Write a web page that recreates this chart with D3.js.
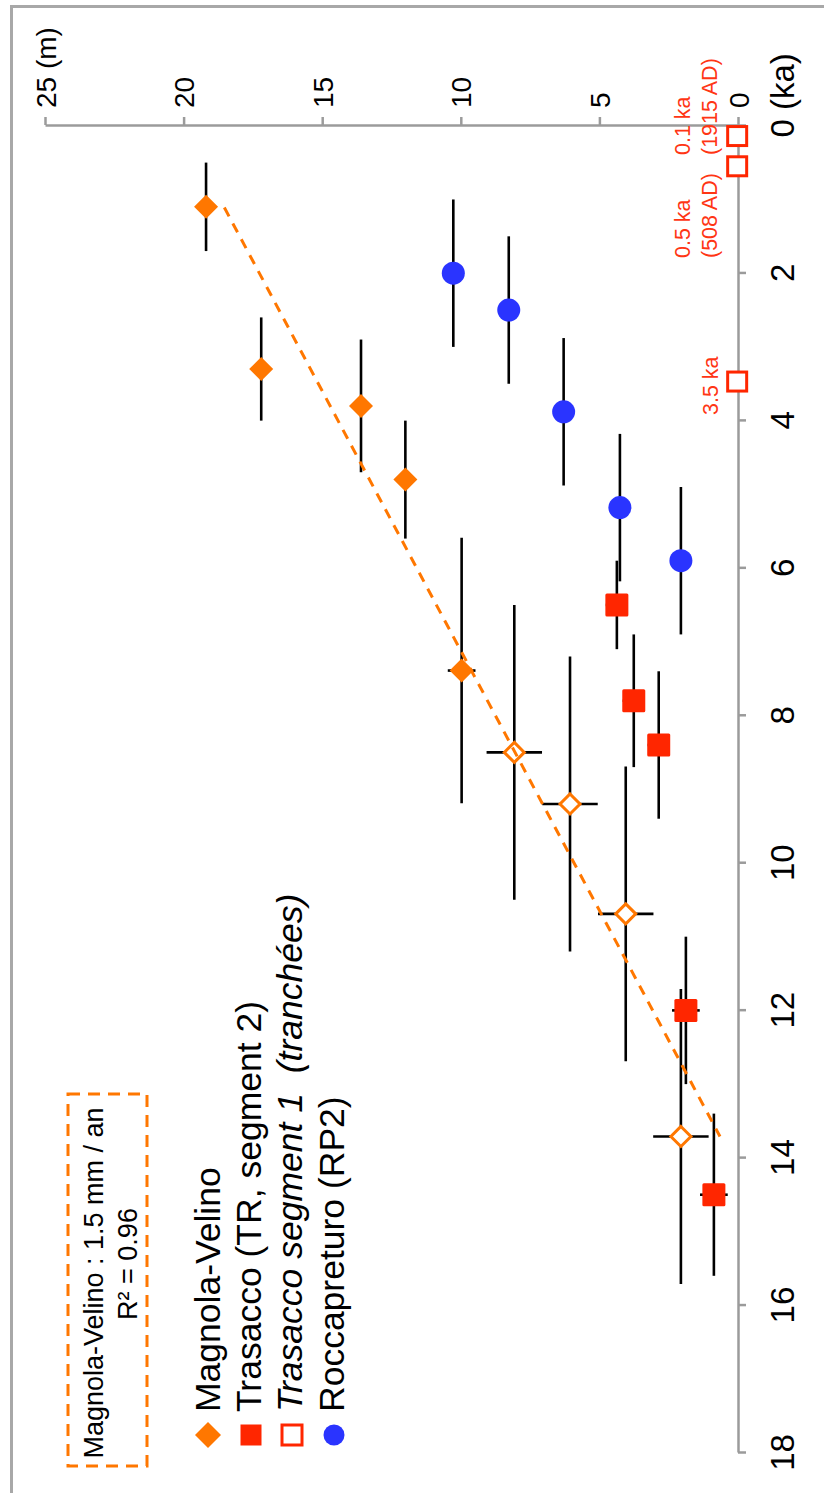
<!DOCTYPE html>
<html>
<head>
<meta charset="utf-8">
<script src="https://cdn.jsdelivr.net/npm/d3@7"></script>
<style>
  html, body { margin: 0; padding: 0; background: #fff; }
  svg { display: block; }
  text { font-family: "Liberation Sans", Arial, Helvetica, sans-serif; white-space: pre; }
</style>
</head>
<body>
<div id="chart"></div>
<script>
// ---------- DATA ----------
// Magnola-Velino (filled diamonds)
const mvAge      = [1.11, 3.31, 3.81, 4.81, 7.40];
const mvSlip     = [19.19, 17.20, 13.60, 12.00, 9.97];
const mvAgeErr   = [0.6, 0.7, 0.9, 0.8, 1.8];
const mvSlipErr  = [0, 0, 0, 0, 0.5];
// Magnola-Velino (open diamonds)
const mvoAge     = [8.51, 9.21, 10.70, 13.72];
const mvoSlip    = [8.07, 6.06, 4.05, 2.06];
const mvoAgeErr  = [2.0, 2.0, 2.0, 2.0];
const mvoSlipErr = [1.0, 1.0, 1.0, 1.0];
// Trasacco (TR, segment 2) filled squares
const trAge      = [6.51, 7.81, 8.41, 12.01, 14.51];
const trSlip     = [4.37, 3.76, 2.86, 1.88, 0.87];
const trAgeErr   = [0.6, 0.9, 1.0, 1.0, 1.1];
const trSlipErr  = [0.4, 0.4, 0.4, 0.5, 0.5];
// Trasacco segment 1 (tranchées) open squares
const ts1Age     = [0.15, 0.56, 3.48];
const ts1Slip    = [0.03, 0.03, 0.03];
const ts1Labels  = [["0.1 ka", "(1915 AD)"], ["0.5 ka", "(508 AD)"], ["3.5 ka"]];
// Roccapreturo (RP2) circles
const rpAge      = [2.01, 2.51, 3.89, 5.19, 5.91];
const rpSlip     = [10.27, 8.27, 6.29, 4.26, 2.06];
const rpAgeErr   = [1.0, 1.0, 1.0, 1.0, 1.0];
// Regression line Magnola-Velino
const fitAge     = [1.12, 13.72];
const fitSlip    = [18.53, 0.65];
// Axis ticks
const ageTicks   = [0, 2, 4, 6, 8, 10, 12, 14, 16, 18];
const slipTicks  = [0, 5, 10, 15, 20, 25];
const legendLabels = ["Magnola-Velino", "Trasacco (TR, segment 2)", "Trasacco segment 1  (tranchées)", "Roccapreturo (RP2)"];
const boxLines   = ["Magnola-Velino : 1.5 mm / an", "R² = 0.96"];

// ---------- SETUP ----------
const W = 824, H = 1493;
const ORANGE = "#FF7700", RED = "#FF2600", BLUE = "#2A34FF", RTEXT = "#FF3514", AXIS = "#9B9B9B";
const svg = d3.select("#chart").append("svg").attr("width", W).attr("height", H);
svg.append("rect").attr("width", W).attr("height", H).attr("fill", "#fff");

// frame
svg.append("rect").attr("x", 11.5).attr("y", 6.5).attr("width", 900).attr("height", 1600)
  .attr("fill", "none").attr("stroke", "#A8A8A8").attr("stroke-width", 3);

const yS = d3.scaleLinear().domain([0, 18]).range([125, 1452]);   // age (ka), vertical
const xS = d3.scaleLinear().domain([0, 25]).range([738, 45]);     // slip (m), horizontal

// ---------- AXES ----------
const ageAxis = svg.append("g").attr("transform", `translate(${xS(0)},0)`)
  .call(d3.axisRight(yS).tickValues(ageTicks).tickSize(8).tickSizeOuter(0)
    .tickFormat(d => d === 0 ? "0 (ka)" : d));
ageAxis.select(".domain").attr("stroke", AXIS).attr("stroke-width", 2.5);
ageAxis.selectAll(".tick line").attr("stroke", AXIS).attr("stroke-width", 2.5);
ageAxis.selectAll(".tick text")
  .attr("x", null).attr("dy", null).attr("fill", "#000")
  .attr("font-size", 33)
  .attr("text-anchor", d => d === 0 ? "start" : "middle")
  .attr("transform", d => d === 0 ? "translate(56,12) rotate(-90)" : "translate(56,0) rotate(-90)");

const slipAxis = svg.append("g").attr("transform", `translate(0,${yS(0)})`)
  .call(d3.axisTop(xS).tickValues(slipTicks).tickSize(8).tickSizeOuter(0)
    .tickFormat(d => d === 25 ? "25 (m)" : d));
slipAxis.select(".domain").attr("stroke", AXIS).attr("stroke-width", 2.5);
slipAxis.selectAll(".tick line").attr("stroke", AXIS).attr("stroke-width", 2.5);
slipAxis.selectAll(".tick text")
  .attr("y", null).attr("dy", null).attr("fill", "#000")
  .attr("font-size", 28)
  .attr("text-anchor", "start")
  .attr("transform", "translate(10,-17) rotate(-90)");

// ---------- HELPERS ----------
const plot = svg.append("g");
function rows(ages, slips, aErr, sErr) {
  return ages.map((a, i) => ({ a, s: slips[i], ae: aErr ? aErr[i] : 0, se: sErr ? sErr[i] : 0 }));
}
function errorBars(data) {
  const g = plot.append("g").attr("stroke", "#000").attr("stroke-width", 2.6);
  data.forEach(d => {
    if (d.ae > 0) g.append("line").attr("x1", xS(d.s)).attr("x2", xS(d.s))
      .attr("y1", yS(d.a - d.ae)).attr("y2", yS(d.a + d.ae));
    if (d.se > 0) g.append("line").attr("y1", yS(d.a)).attr("y2", yS(d.a))
      .attr("x1", xS(d.s - d.se)).attr("x2", xS(d.s + d.se));
  });
}
const diamond = r => `M0,${-r}L${r},0L0,${r}L${-r},0Z`;

const mvData = rows(mvAge, mvSlip, mvAgeErr, mvSlipErr);
const mvoData = rows(mvoAge, mvoSlip, mvoAgeErr, mvoSlipErr);
const trData = rows(trAge, trSlip, trAgeErr, trSlipErr);
const ts1Data = rows(ts1Age, ts1Slip);
const rpData = rows(rpAge, rpSlip, rpAgeErr);

errorBars(mvData); errorBars(mvoData); errorBars(trData); errorBars(rpData);

// markers
plot.append("g").selectAll("path").data(mvData).join("path")
  .attr("d", diamond(12)).attr("fill", ORANGE)
  .attr("transform", d => `translate(${xS(d.s)},${yS(d.a)})`);
plot.append("g").selectAll("path").data(mvoData).join("path")
  .attr("d", diamond(10)).attr("fill", "#fff").attr("stroke", ORANGE).attr("stroke-width", 3)
  .attr("transform", d => `translate(${xS(d.s)},${yS(d.a)})`);
plot.append("g").selectAll("rect").data(trData).join("rect")
  .attr("x", d => xS(d.s) - 11.5).attr("y", d => yS(d.a) - 11.5)
  .attr("width", 23).attr("height", 23).attr("rx", 1.5).attr("fill", RED);
plot.append("g").selectAll("rect").data(ts1Data).join("rect")
  .attr("x", d => xS(d.s) - 9.5).attr("y", d => yS(d.a) - 9.5)
  .attr("width", 19).attr("height", 19).attr("fill", "#fff").attr("stroke", RED).attr("stroke-width", 3);
plot.append("g").selectAll("circle").data(rpData).join("circle")
  .attr("cx", d => xS(d.s)).attr("cy", d => yS(d.a)).attr("r", 11.5).attr("fill", BLUE);

// regression line
plot.append("path")
  .datum(fitAge.map((a, i) => ({ a, s: fitSlip[i] })))
  .attr("d", d3.line().x(d => xS(d.s)).y(d => yS(d.a)))
  .attr("fill", "none").attr("stroke", ORANGE).attr("stroke-width", 3)
  .attr("stroke-dasharray", "10,8");

// ---------- ROTATED TEXT ----------
function rtext(x, y, str, size, anchor, color, italic) {
  return svg.append("text").attr("transform", `translate(${x},${y}) rotate(-90)`)
    .attr("font-size", size).attr("text-anchor", anchor).attr("fill", color)
    .attr("font-style", italic ? "italic" : "normal").text(str);
}

// annotations near open squares
const annBottom = [155, 258, 415];
ts1Labels.forEach((lines, i) => {
  const baseX = lines.length === 2 ? [690, 717] : [718];
  lines.forEach((l, j) => rtext(baseX[j], annBottom[i], l, 21.5, "start", RTEXT, false));
});

// legend
const legX = [208, 251, 292, 334];
const legY = 1435;
svg.append("path").attr("d", diamond(13)).attr("fill", ORANGE)
  .attr("transform", `translate(${legX[0]},${legY})`);
svg.append("rect").attr("x", legX[1] - 10.5).attr("y", legY - 10.5).attr("width", 21).attr("height", 21).attr("fill", RED);
svg.append("rect").attr("x", legX[2] - 10).attr("y", legY - 10).attr("width", 20).attr("height", 20)
  .attr("fill", "#fff").attr("stroke", RED).attr("stroke-width", 3);
svg.append("circle").attr("cx", legX[3]).attr("cy", legY).attr("r", 10.5).attr("fill", BLUE);
const legBase = [220, 261, 302, 344];
legendLabels.forEach((l, i) => rtext(legBase[i], 1412, l, 35.5, "start", "#000", i === 2));

// regression text box
svg.append("rect").attr("x", 68).attr("y", 1094).attr("width", 79).attr("height", 372)
  .attr("fill", "none").attr("stroke", ORANGE).attr("stroke-width", 3).attr("stroke-dasharray", "12,8");
rtext(103, 1283, boxLines[0], 27, "middle", "#000", false);
rtext(137, 1264, boxLines[1], 27, "middle", "#000", false);
</script>
</body>
</html>
